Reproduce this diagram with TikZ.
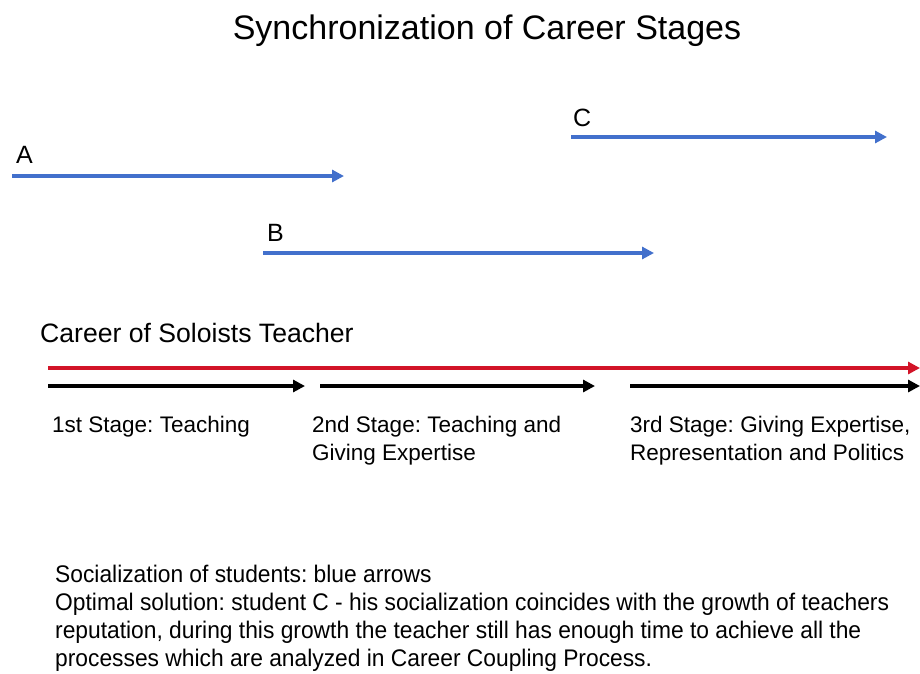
\documentclass[tikz,border=0pt]{standalone}
\usepackage{fontspec}
\setmainfont{Liberation Sans}
\newfontfamily\narrowfont[FakeStretch=0.95]{Liberation Sans}
\usetikzlibrary{arrows.meta,positioning}
\frenchspacing

\definecolor{studblue}{RGB}{66,112,204}
\definecolor{carred}{RGB}{210,20,40}

\tikzset{
  student/.style={draw=studblue,line width=3.2pt,-{Triangle[length=12pt,width=12pt]}},
  career/.style={draw=carred,line width=3.2pt,-{Triangle[length=12pt,width=12pt]}},
  stage/.style={draw=black,line width=3.4pt,-{Triangle[length=12pt,width=12pt]}},
  lbl/.style={inner sep=0pt,anchor=base west,font=\fontsize{25}{30}\selectfont},
  stagetxt/.style={inner sep=0pt,anchor=base west,align=left,font=\fontsize{22.5}{28}\selectfont}
}

\begin{document}
\begin{tikzpicture}[x=1pt,y=-1pt]
    \useasboundingbox (0,0) rectangle (920,673);
    \node[inner sep=0pt,anchor=base,font=\fontsize{34}{40}\selectfont] (title) at (487,39) {Synchronization of Career Stages};

    % students
    \coordinate (a0) at (12,176);  \coordinate (a1) at (344,176);
    \coordinate (b0) at (263,253); \coordinate (b1) at (654,253);
    \coordinate (c0) at (571,137); \coordinate (c1) at (887,137);
    \node[lbl] (labA) at (16,163) {A};
    \node[lbl] (labB) at (267,241) {B};
    \node[lbl] (labC) at (573,126) {C};
    \draw[student] (a0) -- (a1);
    \draw[student] (b0) -- (b1);
    \draw[student] (c0) -- (c1);

    % teacher
    \node[lbl,font=\fontsize{26.6}{30}\selectfont] (teacher) at (40,342) {Career of Soloists Teacher};
    \coordinate (r0) at (48,368);  \coordinate (r1) at (920,368);
    \draw[career] (r0) -- (r1);
    \coordinate (s0) at (48,386);  \coordinate (s1) at (305,386);
    \coordinate (s2) at (320,386); \coordinate (s3) at (595,386);
    \coordinate (s4) at (630,386); \coordinate (s5) at (920,386);
    \draw[stage] (s0) -- (s1);
    \draw[stage] (s2) -- (s3);
    \draw[stage] (s4) -- (s5);
    \node[stagetxt] (st1) at (52,432) {1st Stage: Teaching};
    \node[stagetxt] (st2) at (312,460) {2nd Stage: Teaching and\\Giving Expertise};
    \node[stagetxt] (st3) at (630,460) {3rd Stage: Giving Expertise,\\Representation and Politics};

    % note
    \node[inner sep=0pt,anchor=base west,align=left,font=\narrowfont\fontsize{24}{28}\selectfont] (note) at (55,666)
        {Socialization of students: blue arrows\\
         Optimal solution: student C - his socialization coincides with the growth of teachers\\
         reputation, during this growth the teacher still has enough time to achieve all the\\
         processes which are analyzed in Career Coupling Process.};
\end{tikzpicture}
\end{document}
